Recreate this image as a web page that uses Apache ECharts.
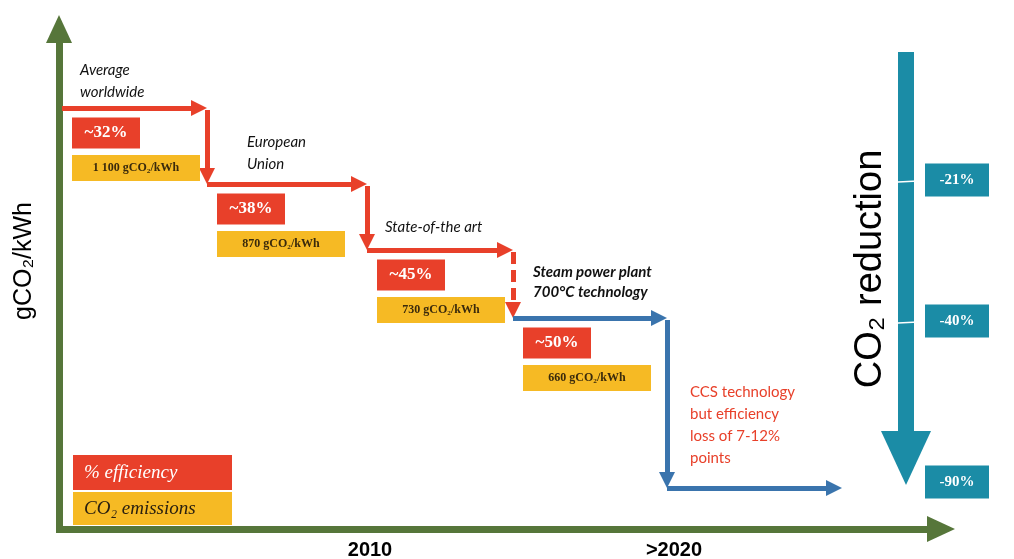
<!DOCTYPE html>
<html>
<head>
<meta charset="utf-8">
<script src="https://cdn.jsdelivr.net/npm/echarts@6/dist/echarts.min.js"></script>
<style>
  html, body { margin: 0; padding: 0; background: #ffffff; }
  #chart { width: 1014px; height: 559px; }
</style>
</head>
<body>
<div id="chart"></div>
<script>
// stage texts
const stageNames = [
  'Average\nworldwide',
  'European\nUnion',
  'State-of-the art',
  'Steam power plant\n700°C technology',
  'CCS technology\nbut efficiency\nloss of 7-12%\npoints'
];
const efficiency = ['~32%', '~38%', '~45%', '~50%'];
const emissions = ['1 100', '870', '730', '660'];
const reductionLabels = ['-21%', '-40%', '-90%'];
const reductionLevel = [180, 321, 482];
const yearLabels = ['2010', '>2020'];
const yearAt = [370, 674];
// step diagram, in diagram units (x = time, y = emission level, top is high)
const stepX = [62, 207, 367, 513, 667, 842];
const stepLevel = [108, 184, 250, 318, 488];
// where the stage captions sit
const stageLabelAt = [[80, 59], [247, 131], [385, 216], [533, 262], [690, 381]];

const RED = '#e8402a';
const YELLOW = '#f6ba24';
const BLUE = '#3a74ad';
const GREEN = '#56763a';
const TEAL = '#1b8ca6';

var chart = echarts.init(document.getElementById('chart'));

// arrows of the step line
var steps = [];
var HEAD = 16;
for (let i = 0; i < stepLevel.length; i++) {
  steps.push({
    coords: [[stepX[i], stepLevel[i]], [stepX[i + 1] - HEAD / 2, stepLevel[i]]],
    lineStyle: { color: i < 3 ? RED : BLUE }
  });
  if (i < stepLevel.length - 1) {
    steps.push({
      coords: [[stepX[i + 1], stepLevel[i] + 2], [stepX[i + 1], stepLevel[i + 1] - HEAD / 2]],
      lineStyle: {
        color: i < 3 ? RED : BLUE,
        type: i == 2 ? [12, 6] : 'solid'
      }
    });
  }
}

var effBoxes = efficiency.map((t, i) => ({
  name: t, value: [stepX[i] + 44, stepLevel[i] + 25]
}));
var emiBoxes = emissions.map((t, i) => ({
  name: t + ' gCO₂/kWh', value: [stepX[i] + 74, stepLevel[i] + 60]
}));
var redBoxes = reductionLabels.map((t, i) => ({
  name: t, value: [957, reductionLevel[i]]
}));
var captions = stageNames.map((t, i) => ({
  name: t, value: stageLabelAt[i],
  label: {
    fontWeight: i == 3 ? 'bold' : 'normal',
    color: i == 4 ? RED : '#111111',
    fontStyle: i == 4 ? 'normal' : 'italic',
    lineHeight: i == 3 ? 20 : 22
  }
}));
var years = yearLabels.map((t, i) => ({ name: t, value: [yearAt[i], 550] }));

var option = {
  animation: false,
  backgroundColor: '#ffffff',
  grid: { left: 0, right: 0, top: 0, bottom: 0 },
  xAxis: { type: 'value', min: 0, max: 1014, show: false },
  yAxis: { type: 'value', min: 0, max: 559, inverse: true, show: false },
  series: [
    {
      // green axes
      type: 'lines',
      coordinateSystem: 'cartesian2d',
      silent: true,
      symbol: ['none', 'triangle'],
      symbolSize: [0, [26, 28]],
      lineStyle: { color: GREEN, width: 7, opacity: 1 },
      data: [
        { coords: [[59, 532], [59, 29]] },
        { coords: [[56, 529], [941, 529]] }
      ]
    },
    {
      // CO2 reduction arrow
      type: 'lines',
      coordinateSystem: 'cartesian2d',
      silent: true,
      symbol: ['none', 'triangle'],
      symbolSize: [0, [50, 54]],
      lineStyle: { color: TEAL, width: 16, opacity: 1 },
      data: [{ coords: [[906, 52], [906, 458]] }]
    },
    {
      type: 'lines',
      coordinateSystem: 'cartesian2d',
      silent: true,
      symbol: 'none',
      lineStyle: { color: '#ffffff', width: 1.5, opacity: 1 },
      data: reductionLevel.slice(0, 2).map(y => ({ coords: [[898, y + 2], [918, y + 1]] }))
    },
    {
      type: 'lines',
      coordinateSystem: 'cartesian2d',
      silent: true,
      symbol: ['none', 'triangle'],
      symbolSize: [0, [16, HEAD]],
      lineStyle: { width: 5, opacity: 1 },
      data: steps
    },
    {
      type: 'scatter',
      silent: true,
      symbol: 'rect',
      symbolSize: [68, 31],
      itemStyle: { color: RED, opacity: 1 },
      label: {
        show: true, position: 'inside', formatter: '{b}',
        color: '#ffffff', fontFamily: 'Liberation Serif', fontWeight: 'bold', fontSize: 17
      },
      data: effBoxes
    },
    {
      type: 'scatter',
      silent: true,
      symbol: 'rect',
      symbolSize: [128, 26],
      itemStyle: { color: YELLOW, opacity: 1 },
      label: {
        show: true, position: 'inside', formatter: '{b}',
        color: '#3a2a0c', fontFamily: 'Liberation Serif', fontWeight: 'bold', fontSize: 12
      },
      data: emiBoxes
    },
    {
      type: 'scatter',
      silent: true,
      symbol: 'rect',
      symbolSize: [64, 33],
      itemStyle: { color: TEAL, opacity: 1 },
      label: {
        show: true, position: 'inside', formatter: '{b}',
        color: '#ffffff', fontFamily: 'Liberation Serif', fontWeight: 'bold', fontSize: 15
      },
      data: redBoxes
    },
    {
      // key boxes
      type: 'scatter',
      silent: true,
      symbol: 'rect',
      itemStyle: { opacity: 1 },
      label: {
        show: true, position: 'insideLeft', distance: 11, formatter: '{b}',
        fontFamily: 'Liberation Serif', fontStyle: 'italic', fontSize: 19
      },
      data: [
        { name: '% efficiency', value: [152.5, 472.5], symbolSize: [159, 35],
          itemStyle: { color: RED, opacity: 1 }, label: { color: '#ffffff' } },
        { name: 'CO₂ emissions', value: [152.5, 508.5], symbolSize: [159, 33],
          itemStyle: { color: YELLOW, opacity: 1 }, label: { color: '#2a2010' } }
      ]
    },
    {
      // captions
      type: 'scatter',
      silent: true,
      symbolSize: 0,
      itemStyle: { opacity: 1 },
      label: {
        show: true, position: 'inside', align: 'left', verticalAlign: 'top',
        formatter: '{b}', fontFamily: 'Lato', fontSize: 15
      },
      data: captions
    },
    {
      // axis texts
      type: 'scatter',
      silent: true,
      symbolSize: 0,
      itemStyle: { opacity: 1 },
      label: {
        show: true, position: 'inside', formatter: '{b}',
        fontFamily: 'Liberation Sans', color: '#000000'
      },
      data: years.map(d => Object.assign(d, { label: { fontSize: 20, fontWeight: 'bold' } })).concat([
        { name: 'gCO₂/kWh', value: [24, 261], label: { fontSize: 25, rotate: 90 } },
        { name: 'CO₂ reduction', value: [871, 269], label: { fontSize: 38, rotate: 90 } }
      ])
    }
  ]
};

chart.setOption(option);
</script>
</body>
</html>
